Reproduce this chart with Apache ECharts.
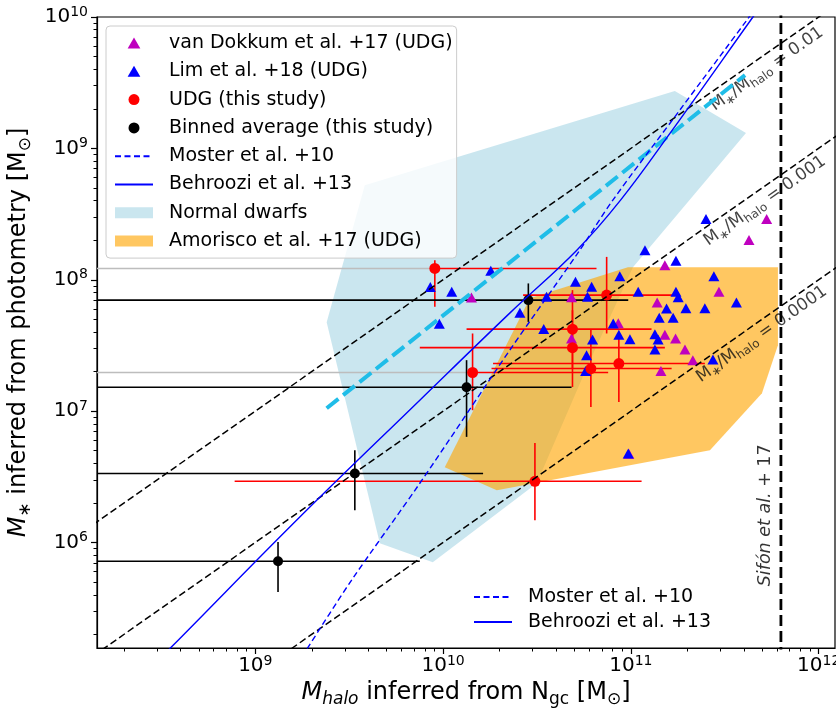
<!DOCTYPE html>
<html><head><meta charset="utf-8">
<script src="https://cdn.jsdelivr.net/npm/echarts@6/dist/echarts.min.js"></script>
<style>html,body{margin:0;padding:0;background:#fff}#c{width:836px;height:710px}</style>
</head><body><div id="c"></div>
<script>
// ---- axis ranges (log10 units) and tick labels ----
const xLogMin = 8.157, xLogMax = 12.087;
const yLogMin = 5.197, yLogMax = 10.0;
const xMajorExp = [9, 10, 11, 12];
const yMajorExp = [6, 7, 8, 9, 10];

// ---- van Dokkum et al. +17 (log10 Mhalo, log10 M*) ----
const vdkLogMh = [11.723, 11.629, 11.181, 11.469, 11.140, 10.933, 11.181, 11.238, 11.288, 11.330, 11.160, 10.684, 10.684, 10.151, 10.989];
const vdkLogMs = [8.462, 8.302, 8.111, 7.908, 7.826, 7.669, 7.582, 7.553, 7.469, 7.388, 7.306, 7.553, 7.867, 7.864, 6.676];

// ---- Lim et al. +18 ----
const limLogMh = [11.400, 11.075, 11.240, 10.941, 11.442, 11.039, 11.240, 11.252, 11.190, 11.293, 11.394, 11.562, 11.151, 11.225, 10.906, 10.936, 10.995, 11.128, 11.145, 11.128, 11.437, 10.705, 10.791, 10.769, 10.551, 10.409, 10.536, 10.796, 10.764, 10.759, 10.254, 9.932, 10.046, 9.980, 10.986];
const limLogMs = [8.462, 8.225, 8.144, 8.027, 8.027, 7.908, 7.908, 7.867, 7.781, 7.784, 7.784, 7.827, 7.710, 7.710, 7.667, 7.582, 7.548, 7.586, 7.545, 7.469, 7.393, 7.984, 7.946, 7.870, 7.870, 7.748, 7.626, 7.545, 7.426, 7.306, 8.068, 7.944, 7.908, 7.665, 6.677];

// ---- UDG (this study), with error bars (null low = open to the left) ----
const udgLogMh   = [9.956, 10.871, 10.689, 10.689, 10.787, 10.936, 10.157, 10.489];
const udgLogMs   = [8.086, 7.883, 7.624, 7.483, 7.324, 7.362, 7.294, 6.466];
const udgLogMhLo = [null, 10.426, 10.125, 9.876, 10.258, 10.266, null, 8.890];
const udgLogMhHi = [10.817, 11.261, 11.110, 11.181, 11.217, 11.394, 10.879, 11.057];
const udgLogMsLo = [7.794, 7.591, 7.327, 7.184, 7.032, 7.070, 7.007, 6.169];
const udgLogMsHi = [8.149, 8.174, 7.921, 7.768, 7.624, 7.565, 7.591, 6.758];

// ---- Binned average (this study) ----
const binLogMh   = [9.121, 9.530, 10.125, 10.454];
const binLogMs   = [5.857, 6.525, 7.182, 7.845];
const binLogMhLo = [null, null, null, null];
const binLogMhHi = [9.876, 10.213, 10.684, 10.986];
const binLogMsLo = [5.623, 6.245, 6.804, 7.679];
const binLogMsHi = [6.004, 6.702, 7.388, 7.972];

// ---- regions ----
const dwarfLogMh = [9.583, 9.380, 9.663, 9.945, 10.499, 10.766, 11.011, 11.613, 11.234];
const dwarfLogMs = [8.720, 7.677, 5.994, 5.849, 6.451, 7.334, 8.096, 9.117, 9.436];
const amoLogMh = [10.009, 10.462, 10.984, 11.783, 11.783, 11.698, 11.421, 10.286];
const amoLogMs = [6.573, 7.860, 8.096, 8.096, 7.502, 7.136, 6.702, 6.398];

// ---- relations ----
const mosterLogMh = [9.25, 9.277, 9.512, 9.876, 10.355, 10.728, 10.904, 11.261, 11.618, 11.66];
const mosterLogMs = [5.13, 5.194, 5.712, 6.451, 7.464, 8.225, 8.606, 9.292, 9.977, 10.06];
const behrLogMh = [8.45, 8.553, 9.237, 9.876, 10.355, 10.712, 10.945, 11.208, 11.650, 11.70];
const behrLogMs = [5.06, 5.204, 6.194, 7.083, 7.746, 8.225, 8.606, 9.114, 10.0, 10.1];
const cyanLogMh = [9.380, 11.608];
const cyanLogMs = [7.022, 9.558];
const sifonLogMh = 11.799;

// ---- M*/Mhalo ratio lines and labels ----
const ratioValues = [0.01, 0.001, 0.0001];
const ratioTexts = ['0.01', '0.001', '0.0001'];
const ratioLabelLogMh = [11.724, 11.714, 11.697];
const ratioLabelLogMs = [9.603, 8.599, 7.585];
const sifonLabelLogMh = [11.714];
const sifonLabelLogMs = [6.207];

const FONT = 'DejaVu Sans';
const toPts = (xs, ys) => xs.map((x, i) => [x, ys[i]]);
function minorTicks(lo, hi) {
  const out = [];
  for (let n = Math.floor(lo); n <= Math.ceil(hi); n++)
    for (let k = 2; k <= 9; k++) { const v = n + Math.log10(k); if (v > lo && v < hi) out.push(v); }
  return out;
}
const tickRich = {
  b: { fontFamily: FONT, fontSize: 20, lineHeight: 24, color: '#000' },
  s: { fontFamily: FONT, fontSize: 14, lineHeight: 14, verticalAlign: 'top', color: '#000' }
};
const tickFmt = v => '{b|10}{s|' + Math.round(v) + '}';
const nameRich = {
  i: { fontFamily: FONT, fontSize: 24, fontStyle: 'italic', lineHeight: 30, color: '#000' },
  n: { fontFamily: FONT, fontSize: 24, lineHeight: 30, color: '#000' },
  isub: { fontFamily: FONT, fontSize: 17, fontStyle: 'italic', lineHeight: 17, verticalAlign: 'bottom', color: '#000' },
  sub: { fontFamily: FONT, fontSize: 17, lineHeight: 17, verticalAlign: 'bottom', color: '#000' }
};

function polyRender(xs, ys, fill) {
  return function (params, api) {
    if (params.dataIndex !== 0) return null;
    const pts = xs.map((x, i) => api.coord([x, ys[i]]));
    return { type: 'polygon', shape: { points: pts }, style: { fill: fill } };
  };
}
function errData(xs, ys, xlo, xhi, ylo, yhi) {
  return xs.map((x, i) => [x, ys[i], xlo[i] == null ? xLogMin : xlo[i], xhi[i], ylo[i], yhi[i], xlo[i] == null ? 1 : 0]);
}
function errRender(color, openColor, lw) {
  return function (params, api) {
    const cs = params.coordSys;
    const L = cs.x, R = cs.x + cs.width;
    const cx = v => Math.max(L, Math.min(R, v));
    const x = api.value(0), y = api.value(1);
    const p = api.coord([x, y]);
    const pl = api.coord([api.value(2), y]);
    const ph = api.coord([api.value(3), y]);
    const pb = api.coord([x, api.value(4)]);
    const pt = api.coord([x, api.value(5)]);
    const open = api.value(6) === 1;
    return { type: 'group', children: [
      { type: 'line', shape: { x1: cx(pl[0]), y1: p[1], x2: p[0], y2: p[1] }, style: { stroke: open ? openColor : color, lineWidth: lw } },
      { type: 'line', shape: { x1: p[0], y1: p[1], x2: cx(ph[0]), y2: p[1] }, style: { stroke: color, lineWidth: lw } },
      { type: 'line', shape: { x1: p[0], y1: pb[1], x2: p[0], y2: pt[1] }, style: { stroke: color, lineWidth: lw } }
    ] };
  };
}

const DWARF_FILL = 'rgba(173,216,230,0.65)';
const AMO_FILL = 'rgba(255,165,0,0.62)';
const TRI_ICON = 'path://M5,0L10,8.66L0,8.66Z';

const series = [
  { name: 'Normal dwarfs', type: 'custom', renderItem: polyRender(dwarfLogMh, dwarfLogMs, DWARF_FILL),
    data: [[dwarfLogMh[0], dwarfLogMs[0]]], itemStyle: { color: DWARF_FILL }, silent: true, clip: true },
  { name: 'Amorisco et al. +17 (UDG)', type: 'custom', renderItem: polyRender(amoLogMh, amoLogMs, AMO_FILL),
    data: [[amoLogMh[0], amoLogMs[0]]], itemStyle: { color: AMO_FILL }, silent: true, clip: true }
];
ratioValues.forEach((r, i) => {
  const c = Math.log10(r);
  series.push({ name: 'ratio' + i, type: 'line', symbol: 'none', silent: true,
    data: [[8.0, 8.0 + c], [12.3, 12.3 + c]],
    lineStyle: { color: '#000', width: 1.5, type: [7, 3.5] } });
});
series.push(
  { name: 'cyanFit', type: 'line', symbol: 'none', silent: true, data: toPts(cyanLogMh, cyanLogMs),
    lineStyle: { color: '#1fbde8', width: 4, type: [15, 6] } },
  { name: 'Moster et al. +10', type: 'line', symbol: 'none', silent: true, smooth: 0.3, data: toPts(mosterLogMh, mosterLogMs),
    lineStyle: { color: '#0000ff', width: 1.4, type: [6, 3.5] }, itemStyle: { color: '#0000ff' } },
  { name: 'Behroozi et al. +13', type: 'line', symbol: 'none', silent: true, smooth: 0.4, data: toPts(behrLogMh, behrLogMs),
    lineStyle: { color: '#0000ff', width: 1.4 }, itemStyle: { color: '#0000ff' } },
  { name: 'sifon', type: 'line', symbol: 'none', silent: true, data: [[sifonLogMh, 5.0], [sifonLogMh, 10.2]],
    lineStyle: { color: '#000', width: 2.8, type: [11, 5] } },
  { name: 'van Dokkum et al. +17 (UDG)', type: 'scatter', symbol: 'triangle', symbolSize: [11, 10],
    data: toPts(vdkLogMh, vdkLogMs), itemStyle: { color: '#bf00bf', opacity: 1 } },
  { name: 'Lim et al. +18 (UDG)', type: 'scatter', symbol: 'triangle', symbolSize: [11, 10],
    data: toPts(limLogMh, limLogMs), itemStyle: { color: '#0000ff', opacity: 1 } },
  { name: 'udgErr', type: 'custom', silent: true, clip: true,
    renderItem: errRender('#ff0000', '#bdbdbd', 1.6),
    data: errData(udgLogMh, udgLogMs, udgLogMhLo, udgLogMhHi, udgLogMsLo, udgLogMsHi), encode: { x: 0, y: 1 } },
  { name: 'UDG (this study)', type: 'scatter', symbol: 'circle', symbolSize: 11,
    data: toPts(udgLogMh, udgLogMs), itemStyle: { color: '#ff0000', opacity: 1 } },
  { name: 'binErr', type: 'custom', silent: true, clip: true,
    renderItem: errRender('#000000', '#000000', 1.6),
    data: errData(binLogMh, binLogMs, binLogMhLo, binLogMhHi, binLogMsLo, binLogMsHi), encode: { x: 0, y: 1 } },
  { name: 'Binned average (this study)', type: 'scatter', symbol: 'circle', symbolSize: 10,
    data: toPts(binLogMh, binLogMs), itemStyle: { color: '#000000', opacity: 1 } },
  { name: 'ratioLabels', type: 'scatter', symbolSize: 0, silent: true,
    data: toPts(ratioLabelLogMh, ratioLabelLogMs),
    label: { show: true, position: 'inside', rotate: 35, align: 'center', verticalAlign: 'middle',
      formatter: p => '{n|M}{s|∗}{n|/M}{s|halo}{n| = ' + ratioTexts[p.dataIndex] + '}',
      rich: {
        n: { fontFamily: FONT, fontSize: 17, lineHeight: 22, color: '#111' },
        s: { fontFamily: FONT, fontSize: 12, lineHeight: 12, verticalAlign: 'bottom', color: '#111' }
      } } },
  { name: 'sifonLabel', type: 'scatter', symbolSize: 0, silent: true,
    data: toPts(sifonLabelLogMh, sifonLabelLogMs),
    label: { show: true, position: 'inside', rotate: 90, align: 'center', verticalAlign: 'middle',
      formatter: () => '{it|Sifón et al.}{n| + 17}',
      rich: {
        it: { fontFamily: FONT, fontSize: 17.5, fontStyle: 'italic', color: '#000' },
        n: { fontFamily: FONT, fontSize: 17.5, color: '#000' }
      } } }
);

const HIDE_SYMBOL = { color: 'rgba(0,0,0,0)', borderWidth: 0, opacity: 0 };
const legendCommon = {
  orient: 'vertical', itemWidth: 38, itemHeight: 11, selectedMode: false, symbolKeepAspect: true,
  textStyle: { fontFamily: FONT, fontSize: 19, color: '#000', lineHeight: 22, padding: [0, 0, 0, 11] }
};

const option = {
  animation: false,
  backgroundColor: '#ffffff',
  grid: { left: 97, top: 17, right: 1, bottom: 62, containLabel: false, outerBoundsMode: 'none',
    show: true, borderColor: '#000', borderWidth: 1.2, backgroundColor: 'transparent' },
  xAxis: [
    { type: 'value', min: xLogMin, max: xLogMax, position: 'bottom',
      axisLine: { show: true, lineStyle: { color: '#000', width: 1.2 } },
      axisTick: { show: true, customValues: xMajorExp, length: 6, lineStyle: { color: '#000', width: 1.2 } },
      axisLabel: { customValues: xMajorExp, formatter: tickFmt, rich: tickRich, margin: 6 },
      splitLine: { show: false },
      name: '{i|M}{isub|halo}{n| inferred from N}{sub|gc}{n| [M}{sub|⊙}{n|]}',
      nameLocation: 'middle', nameGap: 30, nameTextStyle: { rich: nameRich } },
    { type: 'value', min: xLogMin, max: xLogMax, position: 'bottom',
      axisLine: { show: false },
      axisTick: { show: true, customValues: minorTicks(xLogMin, xLogMax), length: 3.5, lineStyle: { color: '#000', width: 1 } },
      axisLabel: { show: false }, splitLine: { show: false } }
  ],
  yAxis: [
    { type: 'value', min: yLogMin, max: yLogMax, position: 'left',
      axisLine: { show: true, lineStyle: { color: '#000', width: 1.2 } },
      axisTick: { show: true, customValues: yMajorExp, length: 6, lineStyle: { color: '#000', width: 1.2 } },
      axisLabel: { customValues: yMajorExp, formatter: tickFmt, rich: tickRich, margin: 9 },
      splitLine: { show: false },
      name: '{i|M}{isub|∗}{n| inferred from photometry [M}{sub|⊙}{n|]}',
      nameLocation: 'middle', nameGap: 54, nameRotate: 90, nameTextStyle: { rich: nameRich } },
    { type: 'value', min: yLogMin, max: yLogMax, position: 'left',
      axisLine: { show: false },
      axisTick: { show: true, customValues: minorTicks(yLogMin, yLogMax), length: 3.5, lineStyle: { color: '#000', width: 1 } },
      axisLabel: { show: false }, splitLine: { show: false } }
  ],
  legend: [
    Object.assign({}, legendCommon, {
      left: 106, top: 26, padding: [6, 4, 6, 8], itemGap: 6.3,
      backgroundColor: 'rgba(255,255,255,0.8)', borderColor: '#cccccc', borderWidth: 1, borderRadius: 4,
      data: [
        { name: 'van Dokkum et al. +17 (UDG)', icon: TRI_ICON },
        { name: 'Lim et al. +18 (UDG)', icon: TRI_ICON },
        { name: 'UDG (this study)', icon: 'circle' },
        { name: 'Binned average (this study)', icon: 'circle' },
        { name: 'Moster et al. +10', itemStyle: HIDE_SYMBOL },
        { name: 'Behroozi et al. +13', itemStyle: HIDE_SYMBOL },
        { name: 'Normal dwarfs', icon: 'rect', itemStyle: { color: DWARF_FILL } },
        { name: 'Amorisco et al. +17 (UDG)', icon: 'rect', itemStyle: { color: AMO_FILL } }
      ] }),
    Object.assign({}, legendCommon, {
      left: 473, top: 586, padding: 0, itemGap: 3,
      data: [{ name: 'Moster et al. +10', itemStyle: HIDE_SYMBOL }, { name: 'Behroozi et al. +13', itemStyle: HIDE_SYMBOL }] })
  ],
  series: series
};

const chart = echarts.init(document.getElementById('c'), null, { renderer: 'canvas', width: 836, height: 710 });
chart.setOption(option);
</script>
</body></html>
